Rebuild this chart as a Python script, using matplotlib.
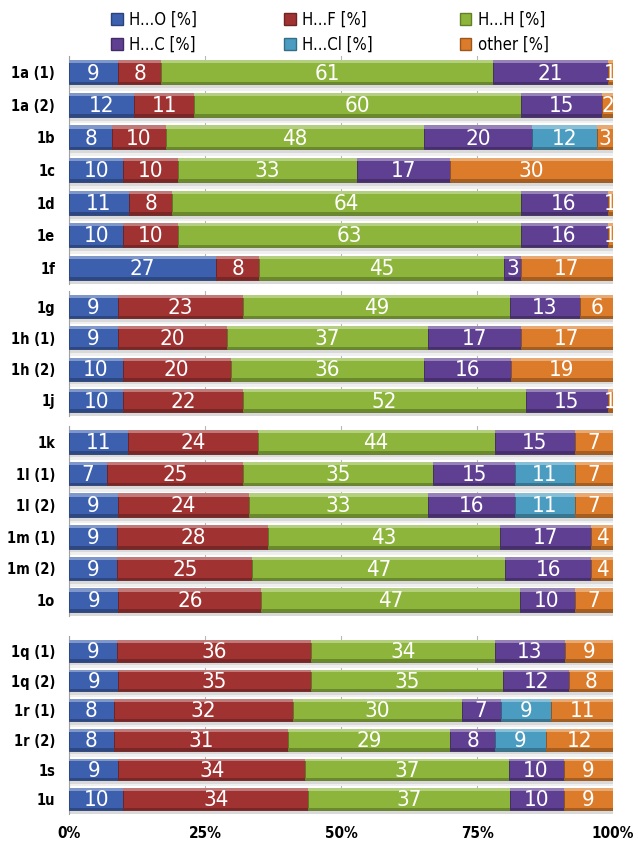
import numpy as np
import matplotlib
matplotlib.use('Agg')
import matplotlib.pyplot as plt
from matplotlib.colors import to_rgb
from matplotlib.patches import Patch

plt.rcParams['font.family'] = ['DejaVu Sans']
plt.rcParams['font.stretch'] = 'condensed'

# rows, top to bottom, and the panel each belongs to
rows = ['1a (1)', '1a (2)', '1b', '1c', '1d', '1e', '1f',
        '1g', '1h (1)', '1h (2)', '1j',
        '1k', '1l (1)', '1l (2)', '1m (1)', '1m (2)', '1o',
        '1q (1)', '1q (2)', '1r (1)', '1r (2)', '1s', '1u']
group = [0]*7 + [1]*4 + [2]*6 + [3]*6

names = ['H...O [%]', 'H...F [%]', 'H...H [%]', 'H...C [%]', 'H...Cl [%]', 'other [%]']
HO = [9, 12, 8, 10, 11, 10, 27, 9, 9, 10, 10, 11, 7, 9, 9, 9, 9, 9, 9, 8, 8, 9, 10]
HF = [8, 11, 10, 10, 8, 10, 8, 23, 20, 20, 22, 24, 25, 24, 28, 25, 26, 36, 35, 32, 31, 34, 34]
HH = [61, 60, 48, 33, 64, 63, 45, 49, 37, 36, 52, 44, 35, 33, 43, 47, 47, 34, 35, 30, 29, 37, 37]
HC = [21, 15, 20, 17, 16, 16, 3, 13, 17, 16, 15, 15, 15, 16, 17, 16, 10, 13, 12, 7, 8, 10, 10]
HCl = [0, 0, 12, 0, 0, 0, 0, 0, 0, 0, 0, 0, 11, 11, 0, 0, 0, 0, 0, 9, 9, 0, 0]
other = [1, 2, 3, 30, 1, 1, 17, 6, 17, 19, 1, 7, 7, 7, 4, 4, 7, 9, 8, 11, 12, 9, 9]

colors = ['#3c5fae', '#a03232', '#8db53b', '#5f3f91', '#4a9cc0', '#dc7c2a']
xticks = [0, 25, 50, 75, 100]
xticklabels = ['0%', '25%', '50%', '75%', '100%']

data = np.array([HO, HF, HH, HC, HCl, other], dtype=float)
pct = data / data.sum(axis=0) * 100  # 100% stacked like the original


def mix(c, t, amt):
    c = np.array(to_rgb(c)); t = np.array(to_rgb(t))
    return tuple(c + (t - c) * amt)


fig = plt.figure(figsize=(6.38, 8.52), dpi=100)
W, H = 638, 852
# panel extents in pixels (top, bottom)
panels = [(56, 284), (291, 416), (426, 616), (636, 814)]
left, right = 69, 613
h = 0.74

for g, (top, bot) in enumerate(panels):
    ax = fig.add_axes([left / W, 1 - bot / H, (right - left) / W, (bot - top) / H])
    idx = [i for i in range(len(rows)) if group[i] == g]
    y = np.arange(len(idx))
    # floor shadow under each bar
    ax.barh(y + h / 2 + 0.06, 100, height=0.12, color='#d9d9d9', zorder=1)
    ax.barh(y + h / 2 + 0.16, 100, height=0.08, color='#efefef', zorder=1)
    start = np.zeros(len(idx))
    for k in range(len(names)):
        w = pct[k, idx]
        ax.barh(y, w, left=start, height=h, color=colors[k],
                edgecolor=mix(colors[k], 'black', 0.35), linewidth=0.6, zorder=3)
        # bevel: light top strip, dark bottom strip
        ax.barh(y - h / 2 + 0.05, w, left=start, height=0.10,
                color=mix(colors[k], 'white', 0.35), linewidth=0, zorder=4)
        ax.barh(y + h / 2 - 0.04, w, left=start, height=0.08,
                color=mix(colors[k], 'black', 0.25), linewidth=0, zorder=4)
        for j, i in enumerate(idx):
            if data[k, i] > 0:
                ax.text(start[j] + w[j] / 2, y[j] + 0.04, f'{int(data[k, i])}',
                        ha='center', va='center', color='white', fontsize=16,
                        zorder=5, clip_on=True)
        start += w
    ax.set_xlim(0, 100)
    ax.set_ylim(len(idx) - 0.5, -0.5)
    ax.set_yticks(y)
    ax.set_yticklabels([rows[i] for i in idx], fontsize=10.5, fontweight='bold')
    ax.tick_params(axis='y', length=0, pad=10)
    ax.set_xticks(xticks)
    ax.grid(axis='x', color='#b8b8b8', linewidth=0.8, zorder=0)
    ax.set_axisbelow(True)
    for s in ['top', 'right', 'bottom']:
        ax.spines[s].set_visible(False)
    ax.spines['left'].set_color('#a0a0a0')
    if g == 3:
        ax.set_xticklabels(xticklabels, fontsize=11, fontweight='bold')
        ax.tick_params(axis='x', length=0, pad=9)
    else:
        ax.tick_params(axis='x', length=0, labelbottom=False)

# legend filled row-wise: reorder for matplotlib's column filling
order = [0, 3, 1, 4, 2, 5]
handles = [Patch(facecolor=colors[k], edgecolor=mix(colors[k], 'black', 0.3),
                 label=names[k]) for k in order]
fig.legend(handles=handles, ncol=3, loc='upper left', bbox_to_anchor=(96 / W, 1 + 4 / H),
           frameon=False, fontsize=12, handlelength=0.7, handleheight=0.7,
           handletextpad=0.4, columnspacing=5.2, labelspacing=0.4)

fig.savefig('out.png', dpi=100)
